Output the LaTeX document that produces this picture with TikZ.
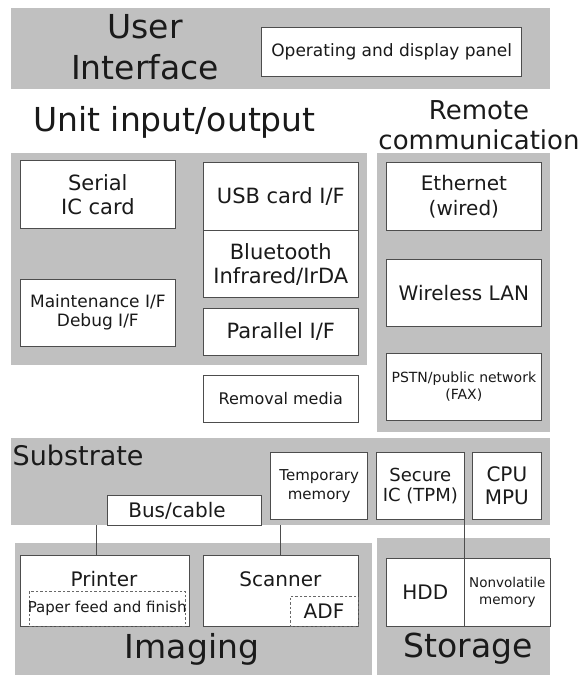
\documentclass[tikz,border=0pt]{standalone}
\usepackage{fontspec}
\setmainfont{DejaVu Sans}
\definecolor{grp}{HTML}{C0C0C0}
\definecolor{edge}{HTML}{4D4D4D}
\definecolor{txt}{HTML}{1A1A1A}
\newcommand\fsz[2]{\fontsize{#1}{#2}\selectfont}
\begin{document}
\begin{tikzpicture}[x=1pt,y=-1pt,
  corners/.style n args={4}{minimum width={(#3)-(#1)}, minimum height={(#4)-(#2)}, anchor=north west, at={(#1,#2)}},
  grpbox/.style={fill=grp, draw=none, inner sep=0pt, outer sep=0pt},
  box/.style={fill=white, draw=edge, line width=0.9pt, inner sep=0pt, outer sep=0pt, align=center, text=txt},
  dbox/.style={draw=edge!85, dash pattern=on 2.5pt off 2pt, line width=0.8pt, inner sep=0pt, outer sep=0pt, align=center, text=txt},
  title/.style={inner sep=0pt, outer sep=0pt, align=center, text=txt},
  conn/.style={draw=edge, line width=0.9pt}]
\useasboundingbox (0,0) rectangle (580,675);
% group backgrounds
\node[grpbox, corners={10.7}{8.3}{550}{89.3}] (ui) {};
\node[grpbox, corners={10.7}{153.3}{367.3}{365}] (uio) {};
\node[grpbox, corners={377.3}{153.3}{550}{431.7}] (rc) {};
\node[grpbox, corners={10.7}{438.3}{550}{525}] (sub) {};
\node[grpbox, corners={15}{543.3}{371.7}{675}] (img) {};
\node[grpbox, corners={376.7}{538}{550}{675}] (sto) {};
% titles
\node[title, font=\fsz{33}{41}] (uititle) at (145,47) {User\\Interface};
\node[title, font=\fsz{33}{40}, anchor=base] (uiotitle) at (174.5,131.7) {Unit input/output};
\node[title, font=\fsz{26}{30}] (rctitle) at (479,125) {Remote\\communication};
\node[title, font=\fsz{27}{32}, anchor=base west] (subtitle) at (12.7,465) {Substrate};
\node[title, font=\fsz{33}{40}, anchor=base] (imgtitle) at (192,658) {Imaging};
\node[title, font=\fsz{33}{40}, anchor=base] (stotitle) at (468,657) {Storage};
% user interface
\node[box, font=\fsz{17}{20}, corners={261.7}{27.3}{521.7}{76}] (panel) {Operating and display panel};
% unit input/output
\node[box, font=\fsz{21}{23.5}, corners={20.7}{160.7}{175}{228.3}] (serial) {Serial\\IC card};
\node[box, font=\fsz{17}{19.5}, corners={20.7}{279}{175}{346}] (maint) {Maintenance I/F\\Debug I/F};
\node[box, font=\fsz{21}{24}, corners={203.3}{162.7}{358.3}{230.7}] (usb) {USB card I/F};
\node[box, font=\fsz{21}{24}, corners={203.3}{230.7}{358.3}{297.7}] (bt) {Bluetooth\\Infrared/IrDA};
\node[box, font=\fsz{21}{24}, corners={203.3}{308.3}{358.3}{355}] (par) {Parallel I/F};
\node[box, font=\fsz{16}{19}, corners={203.3}{375}{358.3}{422.7}] (rem) {Removal media};
% remote communication
\node[box, font=\fsz{20}{25}, corners={386.7}{162.7}{541}{230}] (eth) {Ethernet\\(wired)};
\node[box, font=\fsz{20}{24}, corners={386.7}{259.3}{541}{326.7}] (wlan) {Wireless LAN};
\node[box, font=\fsz{14}{17}, corners={386.7}{353.3}{541}{420.7}] (pstn) {PSTN/public network\\(FAX)};
% substrate
\node[box, font=\fsz{15}{18.4}, corners={270.7}{452.7}{367.7}{519.3}] (tmp) {Temporary\\memory};
\node[box, font=\fsz{18}{19.5}, corners={376.7}{452.7}{464}{519.3}] (sec) {Secure\\IC (TPM)};
\node[box, font=\fsz{20}{23.3}, corners={472.7}{452.7}{541}{519.3}] (cpu) {CPU\\MPU};
\node[box, font=\fsz{20}{24}, corners={107.3}{495.7}{261.7}{525}] (bus) {\makebox[0pt]{Bus/cable\kern15pt}};
% imaging
\node[box, corners={20.7}{555.7}{189.3}{626}] (printer) {};
\node[title, font=\fsz{20}{24}, anchor=base] (printertext) at (104,586) {Printer};
\node[dbox, font=\fsz{15}{18}, corners={29.3}{591}{185}{626}] (paper) {\makebox[0pt]{Paper feed and finish}};
\node[box, corners={203.3}{555.7}{358}{626}] (scanner) {};
\node[title, font=\fsz{20}{24}, anchor=base] (scannertext) at (280.4,586) {Scanner};
\node[dbox, font=\fsz{20}{24}, corners={290}{596.7}{358}{626}] (adf) {ADF};
% storage
\node[box, font=\fsz{20}{24}, corners={386.7}{558.3}{464}{626}] (hdd) {HDD};
\node[box, font=\fsz{13.5}{16.7}, corners={464}{558.3}{550.7}{626}] (nvm) {Nonvolatile\\memory};
% connectors
\coordinate (bustap) at (96.7,525);
\draw[conn] (bustap) -- (bustap |- printer.north);
\draw[conn] (scanner.north) -- (scanner.north |- sub.south);
\draw[conn] (sec.south east) -- (hdd.south east);
\end{tikzpicture}
\end{document}
